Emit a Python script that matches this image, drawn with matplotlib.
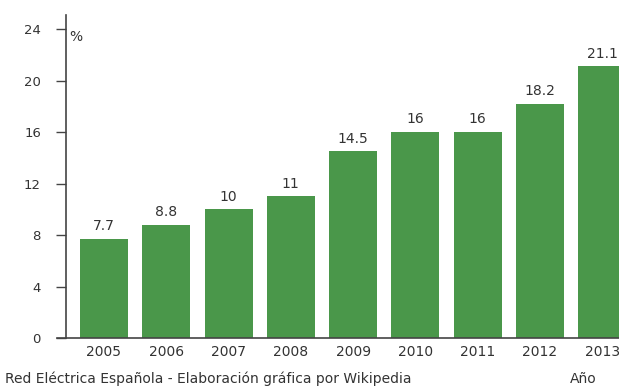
import numpy as np
import matplotlib.pyplot as plt

plt.rcParams['font.family'] = ['DejaVu Sans']

years = ['2005', '2006', '2007', '2008', '2009', '2010', '2011', '2012', '2013']
values = [7.7, 8.8, 10, 11, 14.5, 16, 16, 18.2, 21.1]
value_labels = ['7.7', '8.8', '10', '11', '14.5', '16', '16', '18.2', '21.1']
y_ticks = [0, 4, 8, 12, 16, 20, 24]

green = '#4a974a'
text_col = '#333333'

fig = plt.figure(figsize=(6.19, 3.87), dpi=100)
ax = fig.add_axes([0.1066, 0.1266, 0.8934, 0.8346])

x = np.arange(len(years))
ax.bar(x, values, width=0.77, color=green, zorder=2)

# value above each bar
for xi, v, lab in zip(x, values, value_labels):
    ax.text(xi, v + 0.45, lab, ha='center', va='bottom', fontsize=10, color=text_col)

ax.set_xlim(-0.61, 8.27)
ax.set_ylim(0, 25.1)
ax.set_yticks(y_ticks)
ax.set_yticklabels([str(t) for t in y_ticks], fontsize=9.5, color=text_col)
ax.set_xticks(x)
ax.set_xticklabels(years, fontsize=10, color=text_col)

ax.tick_params(axis='y', length=7, width=1.0, color='#444444', pad=11)
ax.tick_params(axis='x', length=0, pad=5)

for side in ['top', 'right']:
    ax.spines[side].set_visible(False)
ax.spines['left'].set_color('#444444')
ax.spines['bottom'].set_color('#444444')
ax.spines['left'].set_linewidth(1.2)
ax.spines['bottom'].set_linewidth(1.2)
ax.spines['bottom'].set_bounds(-0.76, 8.27)
ax.spines['bottom'].set_zorder(3)

ax.text(0.005, 0.955, '%', transform=ax.transAxes, ha='left', va='top', fontsize=10, color=text_col)

fig.text(0.008, 0.021, 'Red Eléctrica Española - Elaboración gráfica por Wikipedia',
         ha='left', va='center', fontsize=10, color=text_col)
fig.text(0.921, 0.021, 'Año', ha='left', va='center', fontsize=10, color=text_col)

fig.savefig('out.png', dpi=100)
